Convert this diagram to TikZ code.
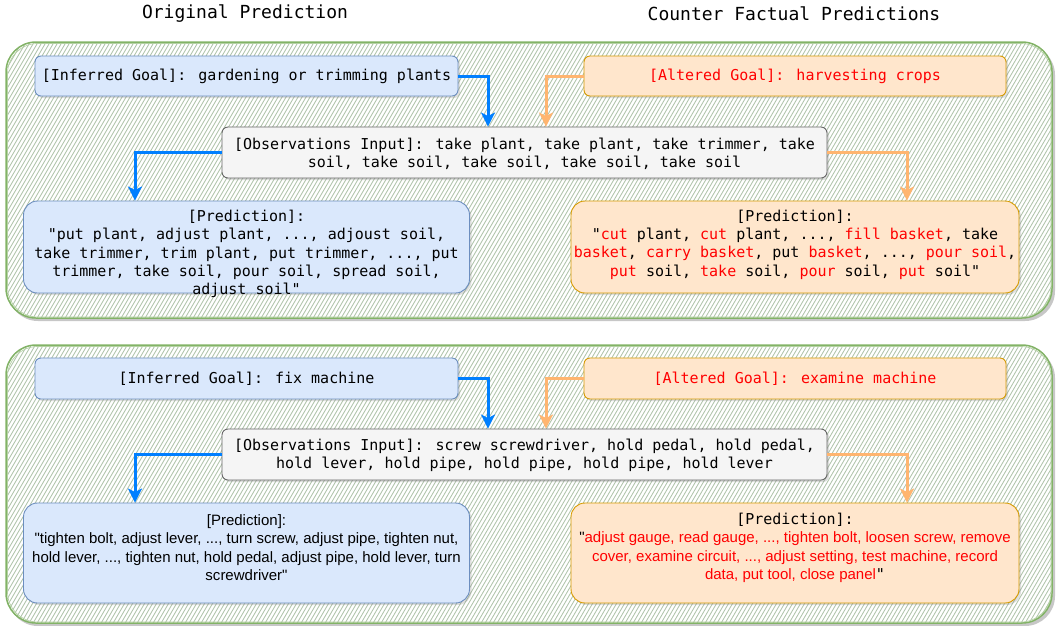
\documentclass[tikz,border=0pt]{standalone}
\usepackage{fontspec}
\setmainfont{Liberation Sans}[Ligatures=TeXOff]
\newfontfamily\monof{DejaVu Sans Mono}[Ligatures=TeXOff]
\usetikzlibrary{arrows.meta,shadows,calc}
\definecolor{bfill}{HTML}{DAE8FC}
\definecolor{bdraw}{HTML}{6C8EBF}
\definecolor{ofill}{HTML}{FFE6CC}
\definecolor{odraw}{HTML}{D79B00}
\definecolor{gfill}{HTML}{F5F5F5}
\definecolor{gdraw}{HTML}{666666}
\definecolor{barrowc}{HTML}{007FFF}
\definecolor{oarrowc}{HTML}{FFB570}
\definecolor{pgreen}{HTML}{82B366}
\definecolor{hatchc}{HTML}{B0C4AB}
\definecolor{redtxt}{HTML}{FF0000}
\newcommand\mymono{\monof\fontsize{15}{18.4}\selectfont}
\newcommand\mysans{\fontsize{15}{18.4}\selectfont}
\newcommand\redt[1]{\textcolor{redtxt}{#1}}
\begin{document}
\begin{tikzpicture}[x=1pt,y=-1pt,
  shd/.style={drop shadow={shadow xshift=2pt,shadow yshift=-2pt,opacity=0.25}},
  box/.style={rounded corners=6pt,line width=0.9pt,shd,inner sep=0pt,align=center},
  bluebox/.style={box,fill=bfill,draw=bdraw},
  orangebox/.style={box,fill=ofill,draw=odraw},
  graybox/.style={box,fill=gfill,draw=gdraw},
  goalbox/.style={minimum width=423pt,minimum height=40pt,font=\mymono},
  obsbox/.style={minimum width=605pt,minimum height=51pt,font=\mymono},
  predbox/.style={rounded corners=14pt,minimum width=446pt},
  txt/.style={align=center,inner sep=0pt},
  title/.style={font=\monof\fontsize{18}{22}\selectfont},
  barrow/.style={draw=barrowc,line width=3pt,-{Stealth[length=14pt,width=14pt,inset=3.5pt]}},
  oarrow/.style={draw=oarrowc,line width=3pt,-{Stealth[length=14pt,width=14pt,inset=3.5pt]}},
  hatch/.style={draw=hatchc,line width=0.85pt},
  panelborder/.style={draw=pgreen,line width=1.5pt,rounded corners=30pt}
]
\useasboundingbox (0,0) rectangle (1057,625);

% titles
\node[title] (t1) at (245,14) {Original Prediction};
\node[title] (t2) at (794,14) {Counter Factual Predictions};

% panels
\foreach \t/\b in {42/318,345/623}{
  \fill[black!22,rounded corners=30pt] (8,\t+3) rectangle (1055,\b+3);
  \fill[white,rounded corners=30pt] (6,\t) rectangle (1052,\b);
  \begin{scope}
    \clip[rounded corners=30pt] (6,\t) rectangle (1052,\b);
    \foreach \x in {-180,-176,...,1060}{
      \draw[hatch] (\x,\b+2) -- ++(175,-300);
    }
  \end{scope}
  \draw[panelborder] (6,\t) rectangle (1052,\b);
  \draw[draw=pgreen!60,line width=0.7pt,rounded corners=30pt] (7.5,\t+1.5) rectangle (1051,\b-1);
}

% ---------- panel 1 ----------
\node[bluebox,goalbox] (g1) at (246.5,76) {[Inferred Goal]: gardening or trimming plants};
\node[orangebox,goalbox,text=redtxt,minimum width=422pt] (a1) at (795,76) {[Altered Goal]: harvesting crops};
\node[graybox,obsbox] (o1) at (524.5,152.5) {};
\node[txt,font=\mymono] (o1t) at (524.5,154) {[Observations Input]: take plant, take plant, take trimmer, take\\soil, take soil, take soil, take soil, take soil};
\node[bluebox,predbox,minimum height=92pt] (p1) at (246.5,247) {};
\node[txt,font=\mymono] (p1t) at (246.5,254) {[Prediction]:\\"put plant, adjust plant, ..., adjoust soil,\\take trimmer, trim plant, put trimmer, ..., put\\trimmer, take soil, pour soil, spread soil,\\adjust soil"};
\node[orangebox,predbox,minimum width=448pt,minimum height=92pt] (q1) at (795,247) {};
\node[txt,font=\mymono] (q1t) at (795,244.5) {[Prediction]:\\"\redt{cut} plant, \redt{cut} plant, ..., \redt{fill basket}, take\\\redt{basket}, \redt{carry basket}, put \redt{basket}, ..., \redt{pour soil},\\\redt{put} soil, \redt{take} soil, \redt{pour} soil, \redt{put} soil"};

\coordinate (x1) at (488,0);
\coordinate (x2) at (546,0);
\coordinate (x3) at (135,0);
\coordinate (x4) at (907,0);
\draw[barrow] (g1.east) -| (o1.north -| x1);
\draw[oarrow] (a1.west) -| (o1.north -| x2);
\draw[barrow] (o1.west) -| (p1.north -| x3);
\draw[oarrow] (o1.east) -| (q1.north -| x4);

% ---------- panel 2 ----------
\node[bluebox,goalbox,minimum height=41pt] (g2) at (246.5,378.5) {[Inferred Goal]: fix machine};
\node[orangebox,goalbox,text=redtxt,minimum width=422pt,minimum height=41pt] (a2) at (795,378.5) {[Altered Goal]: examine machine};
\node[graybox,obsbox] (o2) at (524.5,454.5) {};
\node[txt,font=\mymono] (o2t) at (524.5,455.5) {[Observations Input]: screw screwdriver, hold pedal, hold pedal,\\hold lever, hold pipe, hold pipe, hold pipe, hold lever};
\node[bluebox,predbox,minimum height=100pt] (p2) at (246.5,553) {};
\node[txt,font=\mysans] (p2t) at (246.5,547.5) {[Prediction]:\\"tighten bolt, adjust lever, ..., turn screw, adjust pipe, tighten nut,\\hold lever, ..., tighten nut, hold pedal, adjust pipe, hold lever, turn\\screwdriver"};
\node[orangebox,predbox,minimum width=448pt,minimum height=100pt] (q2) at (795,553) {};
\node[txt,font=\mysans] (q2t) at (795,548) {{\mymono [Prediction]:}\\"\redt{adjust gauge, read gauge, ..., tighten bolt, loosen screw, remove}\\\redt{cover, examine circuit, ..., adjust setting, test machine, record}\\\redt{data, put tool, close panel}{\mymono "}};

\draw[barrow] (g2.east) -| (o2.north -| x1);
\draw[oarrow] (a2.west) -| (o2.north -| x2);
\draw[barrow] (o2.west) -| (p2.north -| x3);
\draw[oarrow] (o2.east) -| (q2.north -| x4);
\end{tikzpicture}
\end{document}
